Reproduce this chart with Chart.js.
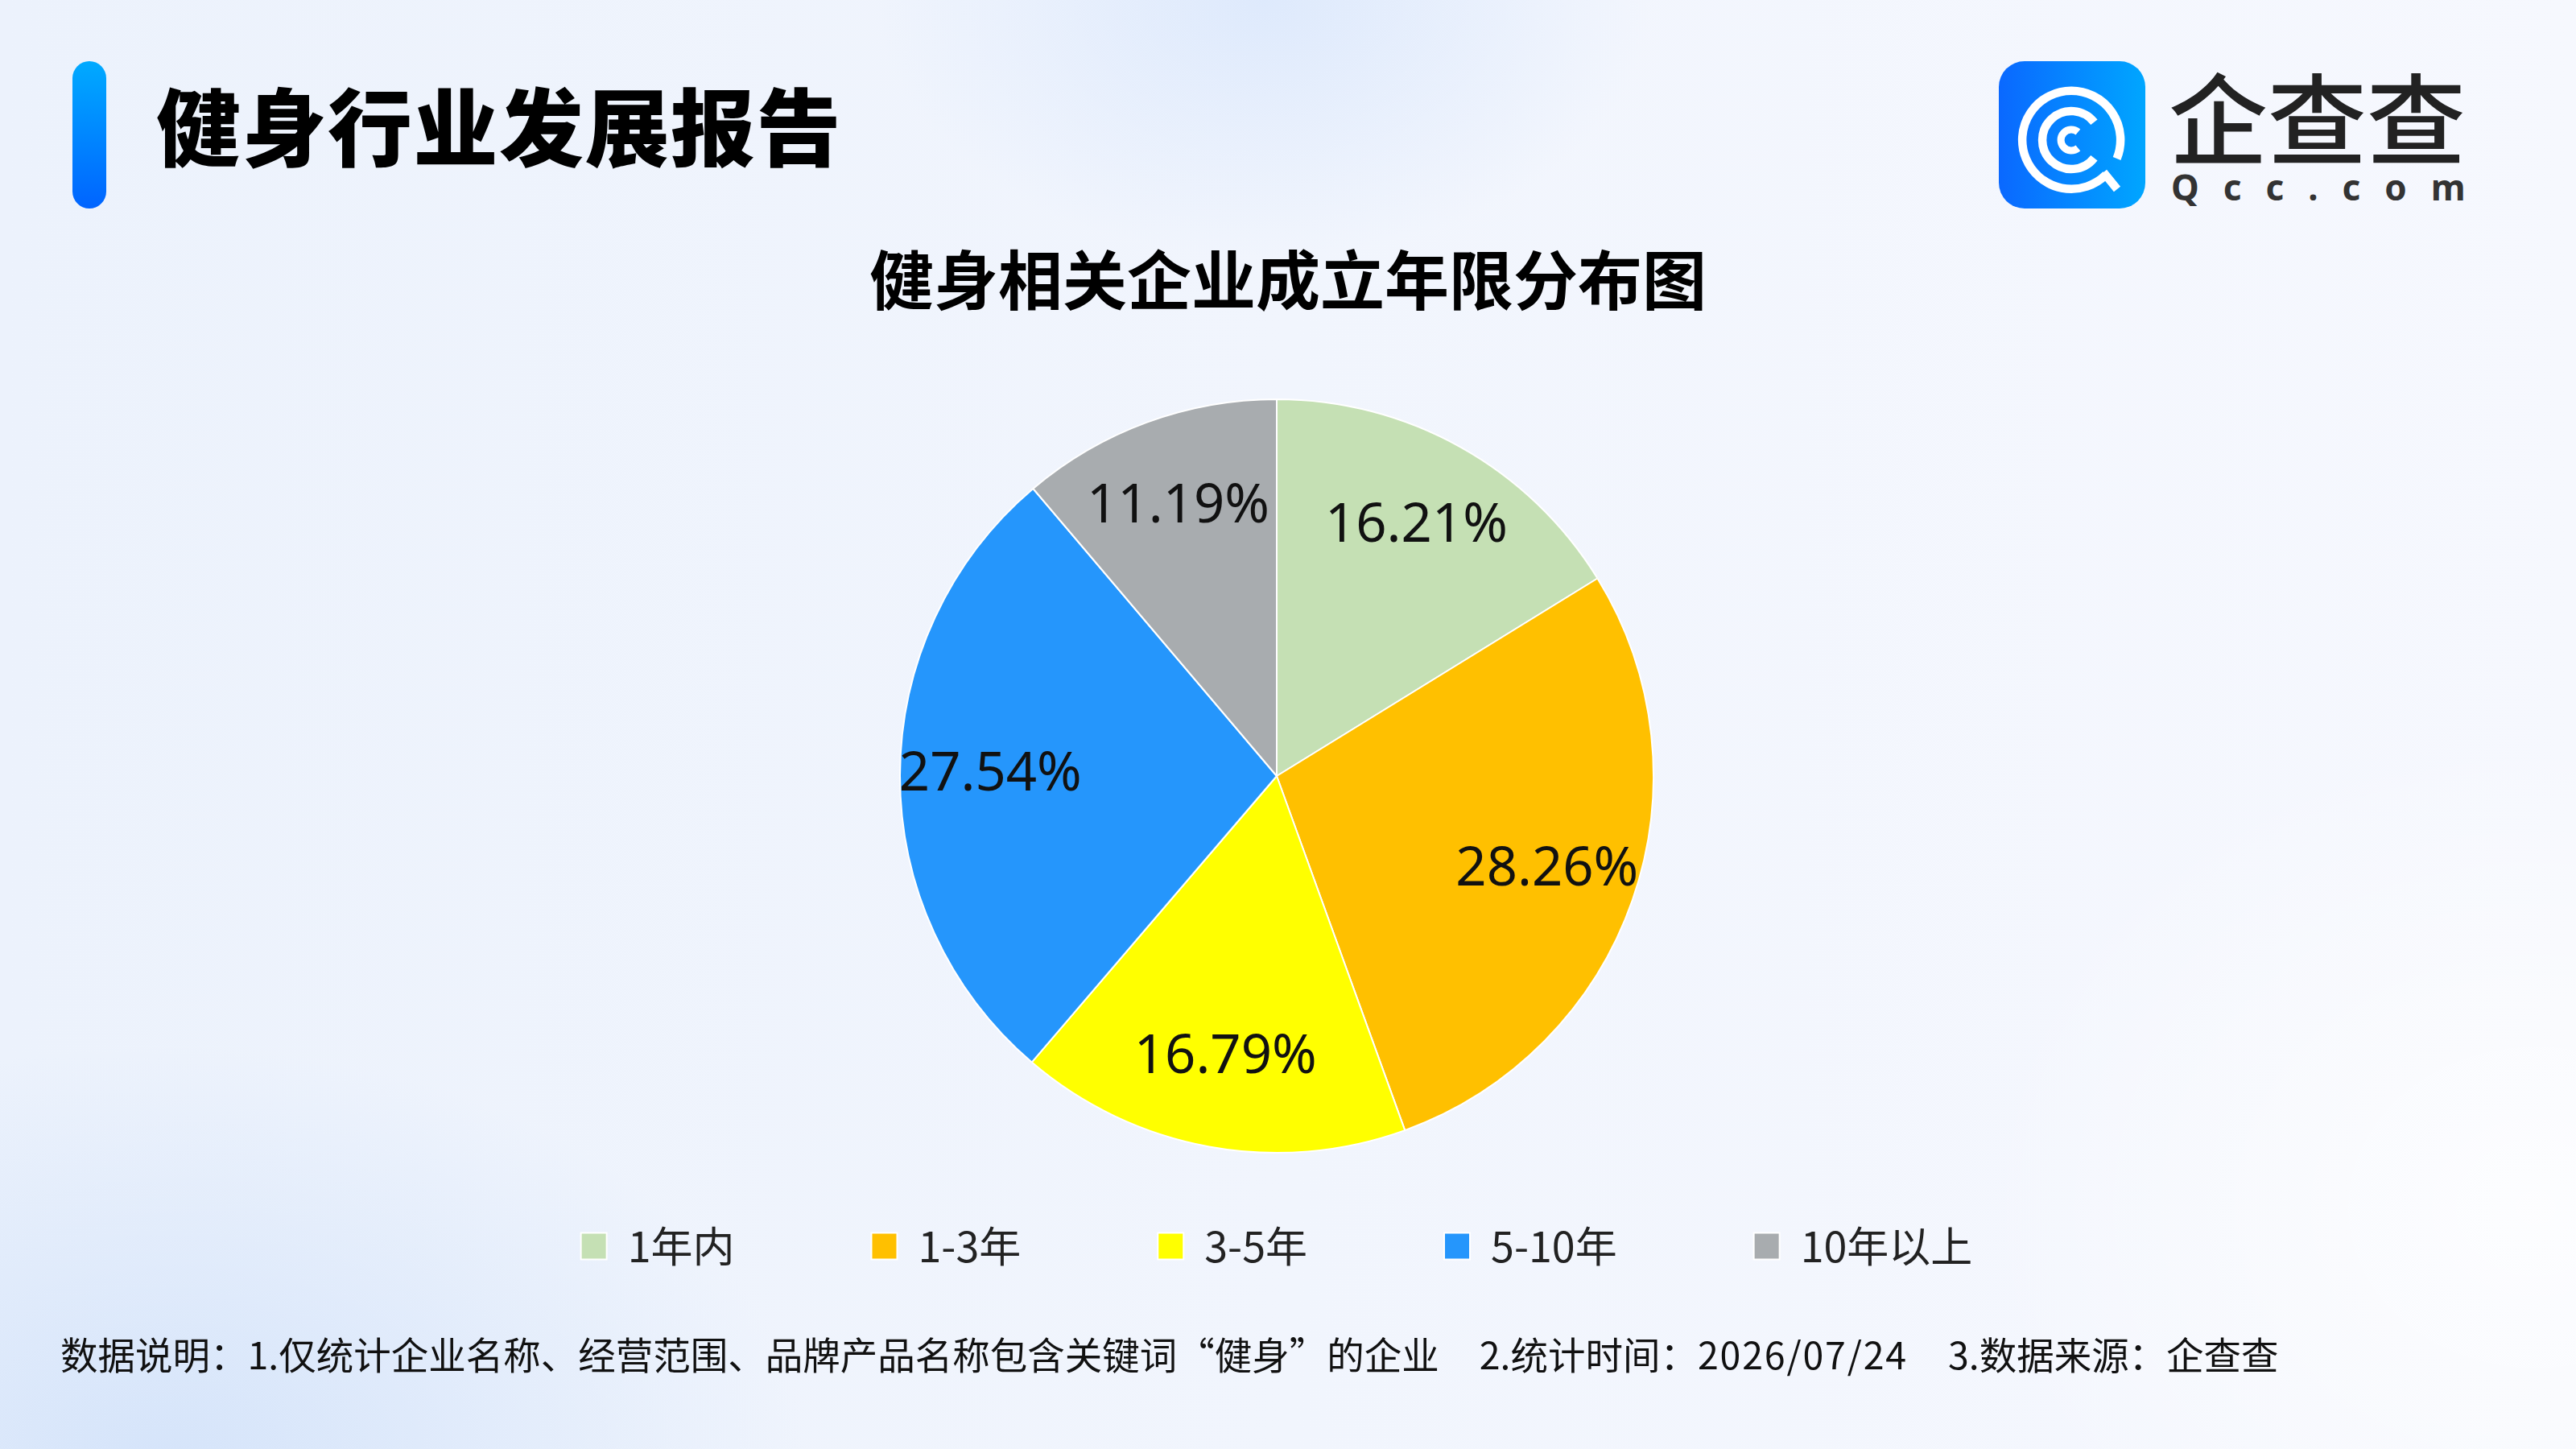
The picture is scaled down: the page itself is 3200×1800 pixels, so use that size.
<!DOCTYPE html>
<html>
<head>
<meta charset="utf-8">
<script src="https://cdn.jsdelivr.net/npm/chart.js@4.4.0/dist/chart.umd.min.js"></script>
<style>
html,body{margin:0;padding:0;}
body{
  width:3200px;height:1800px;position:relative;overflow:hidden;
  font-family:"Noto Sans CJK SC","Noto Sans",sans-serif;
  background:
    radial-gradient(ellipse 480px 320px at 1570px 0px, rgba(221,233,252,0.95), rgba(221,233,252,0) 100%),
    radial-gradient(ellipse 800px 520px at 200px 1820px, rgba(213,228,250,1), rgba(213,228,250,0) 100%),
    radial-gradient(ellipse 700px 600px at 3150px 1500px, rgba(255,255,255,0.75), rgba(255,255,255,0) 100%),
    linear-gradient(90deg, #ECF2FC 0%, #F1F5FD 50%, #F6F8FE 100%);
}
#bar{position:absolute;left:90px;top:76px;width:42px;height:183px;border-radius:21px;
  background:linear-gradient(180deg,#00AAFF 0%,#0064FF 100%);}
#head{position:absolute;left:194px;top:100px;font-size:105px;line-height:105px;font-weight:900;color:#000;letter-spacing:1.5px;white-space:nowrap;}
#logo{position:absolute;left:2483px;top:76px;width:182px;height:183px;border-radius:32px;
  background:linear-gradient(90deg,#0A68FF 0%,#00A6FF 100%);}
#logo svg{position:absolute;left:0;top:0;}
#brand{position:absolute;left:2694px;top:80px;font-size:123px;line-height:123px;font-weight:500;color:#222;white-space:nowrap;}
#brand2{position:absolute;left:2697px;top:206px;font-family:"Noto Sans","DejaVu Sans",sans-serif;font-size:44px;line-height:52px;font-weight:700;color:#333;letter-spacing:30px;white-space:nowrap;}
#ctitle{position:absolute;left:0;width:3200px;text-align:center;top:303px;font-size:80px;line-height:80px;font-weight:700;color:#000;}
#wrap{position:absolute;left:0;top:0;width:3200px;height:1800px;}
#foot{position:absolute;left:75px;top:1655px;font-size:46.5px;line-height:52px;color:#111;white-space:nowrap;}
#foot .seg{margin-left:50px;}
#foot .num{letter-spacing:1.8px;}
</style>
</head>
<body>
<div id="bar"></div>
<div id="head">健身行业发展报告</div>
<div id="logo">
  <svg width="182" height="183" viewBox="0 0 182 183">
    <g fill="none" stroke="#fff" stroke-width="10.5">
      <path d="M146.6 120.9 A61 61 0 1 0 133.1 141.1"/>
      <path d="M130 138 L147 159"/>
      <path d="M118.4 75.8 A36 36 0 1 0 118.4 120.2"/>
      <path d="M98.4 88 A13 13 0 1 0 98.4 108" stroke-width="9"/>
    </g>
  </svg>
</div>
<div id="brand">企查查</div>
<div id="brand2">Qcc.com</div>
<div id="ctitle">健身相关企业成立年限分布图</div>
<div id="wrap"><canvas id="c"></canvas></div>
<div id="foot">数据说明：1.仅统计企业名称、经营范围、品牌产品名称包含关键词“健身”的企业<span class="seg">2.统计时间：<span class="num">2026/07/24</span></span><span class="seg">3.数据来源：企查查</span></div>

<script>
const categories = ["1年内", "1-3年", "3-5年", "5-10年", "10年以上"];
const shares = [16.21, 28.26, 16.79, 27.54, 11.19];
const sliceColors = ["#C5E0B4", "#FFC000", "#FFFF00", "#2596FC", "#A8ACAF"];

const pctLabels = {
  id: 'pctLabels',
  afterDatasetsDraw(chart) {
    const ctx = chart.ctx;
    const meta = chart.getDatasetMeta(0);
    ctx.save();
    ctx.font = '67px "Noto Sans", "Open Sans", sans-serif';
    ctx.fillStyle = '#111';
    ctx.textAlign = 'center';
    ctx.textBaseline = 'middle';
    meta.data.forEach((arc, i) => {
      const p = arc.getProps(['x', 'y', 'startAngle', 'endAngle', 'outerRadius'], true);
      const mid = (p.startAngle + p.endAngle) / 2;
      const r = p.outerRadius * 0.76;
      ctx.fillText(shares[i].toFixed(2) + '%', p.x + Math.cos(mid) * r, p.y + Math.sin(mid) * r);
    });
    ctx.restore();
  }
};

new Chart(document.getElementById('c'), {
  type: 'pie',
  data: {
    labels: categories,
    datasets: [{
      data: shares,
      backgroundColor: sliceColors,
      borderColor: '#ffffff',
      borderWidth: 2,
      radius: 468,
      clip: false
    }]
  },
  options: {
    responsive: true,
    maintainAspectRatio: false,
    devicePixelRatio: 1,
    animation: false,
    layout: { padding: { top: 576, bottom: 216, left: 0, right: 28 } },
    plugins: {
      tooltip: { enabled: false },
      title: { display: false },
      legend: {
        display: true,
        position: 'bottom',
        align: 'center',
        labels: {
          boxWidth: 32,
          boxHeight: 33,
          padding: 170,
          color: '#222',
          font: { family: '"Noto Sans CJK SC", "Noto Sans", sans-serif', size: 52 }
        }
      }
    }
  },
  plugins: [pctLabels]
});
</script>
</body>
</html>
